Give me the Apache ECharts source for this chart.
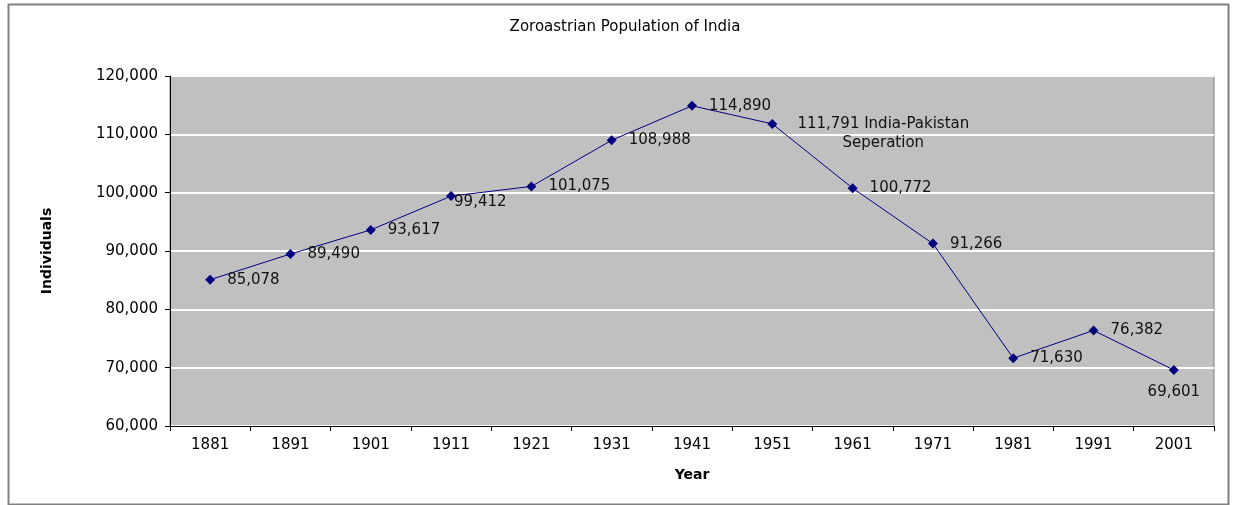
<!DOCTYPE html>
<html><head><meta charset="utf-8">
<script src="https://cdn.jsdelivr.net/npm/echarts@6/dist/echarts.min.js"></script>
<style>html,body{margin:0;padding:0;background:#fff}#c{width:1233px;height:505px}</style>
</head><body><div id="c"></div>
<script>
const years = ['1881','1891','1901','1911','1921','1931','1941','1951','1961','1971','1981','1991','2001'];
const population = [85078, 89490, 93617, 99412, 101075, 108988, 114890, 111791, 100772, 91266, 71630, 76382, 69601];
const notes = {'1951': 'India-Pakistan\nSeperation'};
const yTicks = [60000, 70000, 80000, 90000, 100000, 110000, 120000];

const FONT = 'DejaVu Sans';
const fmt = v => v.toLocaleString('en-US');

const seriesData = population.map((v, i) => {
  const d = {value: v};
  if (years[i] === '1911') d.label = {offset: [-14, 6]};
  if (years[i] === '2001') d.label = {position: 'bottom', distance: 8};
  if (notes[years[i]]) d.label = {align: 'center', distance: 6, offset: [100, 10], formatter: p => fmt(p.value) + ' ' + notes[years[i]]};
  return d;
});

const chart = echarts.init(document.getElementById('c'));
chart.setOption({
  animation: false,
  backgroundColor: '#fff',
  title: {
    text: 'Zoroastrian Population of India',
    left: 620, textAlign: 'center', top: 15,
    textStyle: {fontFamily: FONT, fontSize: 15, fontWeight: 'normal', color: '#000'}
  },
  graphic: [{
    type: 'rect', left: 6, top: 2, silent: true, z: -10,
    shape: {width: 1220, height: 500},
    style: {fill: 'none', stroke: '#808080', lineWidth: 2}
  }],
  grid: {
    left: 170, top: 76, right: 19, bottom: 79,
    show: true, backgroundColor: '#C0C0C0', borderColor: '#808080', borderWidth: 1
  },
  xAxis: {
    type: 'category', data: years, boundaryGap: true,
    name: 'Year', nameLocation: 'middle', nameGap: 42,
    nameTextStyle: {fontFamily: FONT, fontSize: 14, fontWeight: 'bold', color: '#000'},
    axisLine: {lineStyle: {color: '#000', width: 1}},
    axisTick: {show: true, length: 5, inside: false, lineStyle: {color: '#000'}},
    axisLabel: {fontFamily: FONT, fontSize: 15, color: '#000', margin: 12}
  },
  yAxis: {
    type: 'value', min: 60000, max: 120000, interval: 10000,
    name: 'Individuals', nameLocation: 'middle', nameRotate: 90, nameGap: 116,
    nameTextStyle: {fontFamily: FONT, fontSize: 14, fontWeight: 'bold', color: '#000'},
    axisLine: {show: true, lineStyle: {color: '#000', width: 1}},
    axisTick: {show: true, length: 5, lineStyle: {color: '#000'}},
    axisLabel: {fontFamily: FONT, fontSize: 15, color: '#000', margin: 12,
      formatter: v => yTicks.includes(v) ? fmt(v) : ''},
    splitLine: {show: true, lineStyle: {color: '#fff', width: 2}}
  },
  series: [{
    type: 'line', data: seriesData,
    symbol: 'diamond', symbolSize: 10,
    lineStyle: {color: '#000080', width: 1},
    itemStyle: {color: '#000080'},
    label: {
      show: true, position: 'right', distance: 12,
      fontFamily: FONT, fontSize: 15, color: '#111', lineHeight: 19,
      formatter: p => fmt(p.value)
    }
  }]
});
</script></body></html>
